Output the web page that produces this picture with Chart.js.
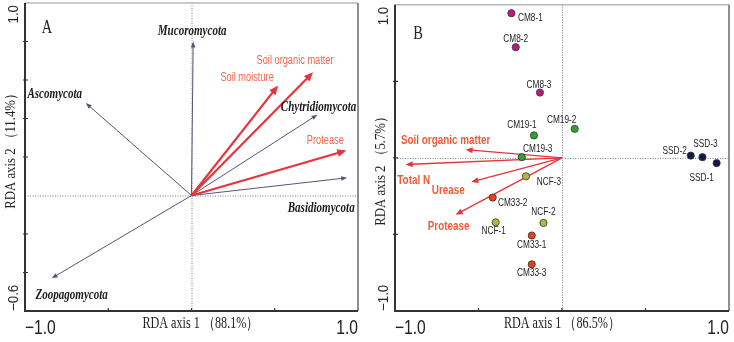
<!DOCTYPE html>
<html>
<head>
<meta charset="utf-8">
<script src="https://cdn.jsdelivr.net/npm/chart.js@4"></script>
<style>
  body { margin: 0; background: #fff; }
  #wrap { position: relative; width: 734px; height: 342px; }
  canvas { position: absolute; top: 0; }
</style>
</head>
<body>
<div id="wrap">
  <canvas id="rda-a" width="367" height="342" style="left:0"></canvas>
  <canvas id="rda-b" width="367" height="342" style="left:367px"></canvas>
</div>
<script>
// ---- panel A: phyla (grey arrows) and soil factors (red arrows)
const phylaNames = ['Mucoromycota', 'Ascomycota', 'Zoopagomycota', 'Chytridiomycota', 'Basidiomycota'];
const phylaX = [0.01, -0.635, -0.84, 0.757, 0.935];
const phylaY = [0.80, 0.48, -0.43, 0.42, 0.092];
const envANames = ['Soil moisture', 'Soil organic matter', 'Protease'];
const envAX = [0.52, 0.73, 0.93];
const envAY = [0.571, 0.64, 0.234];
const xTicksA = ['−1.0', '1.0'];
const yTicksA = ['−0.6', '1.0'];

// ---- panel B: samples and soil factors
const groupNames = ['CM8', 'CM19', 'NCF', 'CM33', 'SSD'];
const sampleNames = ['CM8-1', 'CM8-2', 'CM8-3', 'CM19-1', 'CM19-2', 'CM19-3',
  'NCF-1', 'NCF-2', 'NCF-3', 'CM33-1', 'CM33-2', 'CM33-3', 'SSD-1', 'SSD-2', 'SSD-3'];
const sampleGroup = ['CM8', 'CM8', 'CM8', 'CM19', 'CM19', 'CM19',
  'NCF', 'NCF', 'NCF', 'CM33', 'CM33', 'CM33', 'SSD', 'SSD', 'SSD'];
const sampleX = [-0.303, -0.277, -0.132, -0.168, 0.076, -0.241,
  -0.397, -0.111, -0.216, -0.181, -0.415, -0.181, 0.926, 0.771, 0.841];
const sampleY = [0.945, 0.723, 0.427, 0.147, 0.19, 0.005,
  -0.421, -0.425, -0.12, -0.507, -0.259, -0.695, -0.034, 0.015, 0.005];
const envBNames = ['Soil organic matter', 'Total N', 'Urease', 'Protease'];
const envBX = [-0.577, -0.936, -0.543, -0.637];
const envBY = [0.054, -0.043, -0.157, -0.371];
const xTicksB = ['−1.0', '1.0'];
const yTicksB = ['−1.0', '1.0'];

// styling
const groupColors = { CM8: '#c2187e', CM19: '#2fa233', NCF: '#b8b636', CM33: '#e2421c', SSD: '#17174c' };
const SERIF = '"Liberation Serif", "Times New Roman", serif';
const SANS = '"Liberation Sans", Arial, sans-serif';

// label offsets in px from the arrow tip / point
const phylaOff = [[-1, -10], [-31, -9], [20, 17], [1, -7], [-26, 31]];
const envAOff = [[-31, -8], [-18, -12], [-21, -10]];
const sampleOff = [[19, 5], [0, -8], [-1, -8], [-12, -10], [-13, -9], [16, -8],
  [-2, 9], [0, -11], [23, 6], [0, 9], [20, 5], [0, 9], [-15, 15], [-16, -5], [3, -13]];
const envBOff = [[-20, -9], [8, 16], [-23, 8], [-7, 12]];

function txt(ctx, s, x, y, font, color, sx, rot, align) {
  ctx.save();
  ctx.translate(x, y);
  if (rot) ctx.rotate(rot);
  ctx.scale(sx, 1);
  ctx.font = font;
  ctx.fillStyle = color;
  ctx.textAlign = align || 'center';
  ctx.textBaseline = 'middle';
  ctx.fillText(s, 0, 0);
  ctx.restore();
}

function arrow(ctx, x0, y0, x1, y1, color, lw, hl, hw) {
  const a = Math.atan2(y1 - y0, x1 - x0);
  const bx = x1 - hl * Math.cos(a), by = y1 - hl * Math.sin(a);
  ctx.strokeStyle = color;
  ctx.lineWidth = lw;
  ctx.beginPath();
  ctx.moveTo(x0, y0);
  ctx.lineTo(bx + Math.cos(a), by + Math.sin(a));
  ctx.stroke();
  ctx.fillStyle = color;
  ctx.beginPath();
  ctx.moveTo(x1, y1);
  ctx.lineTo(bx + hw * Math.sin(a), by - hw * Math.cos(a));
  ctx.lineTo(bx - hw * Math.sin(a), by + hw * Math.cos(a));
  ctx.closePath();
  ctx.fill();
}

function framePlugin(cfg) {
  return {
    id: 'rdaFrame',
    beforeDatasetsDraw(chart) {
      const ctx = chart.ctx, xs = chart.scales.x, ys = chart.scales.y;
      const { left, right, top, bottom } = chart.chartArea;
      ctx.save();
      // zero lines
      ctx.strokeStyle = '#7a7a7a';
      ctx.lineWidth = 1;
      ctx.setLineDash([1, 1.5]);
      ctx.beginPath();
      ctx.moveTo(xs.getPixelForValue(0) + 0.5, top);
      ctx.lineTo(xs.getPixelForValue(0) + 0.5, bottom);
      ctx.moveTo(left, ys.getPixelForValue(0) + 0.5);
      ctx.lineTo(right, ys.getPixelForValue(0) + 0.5);
      ctx.stroke();
      ctx.setLineDash([]);
      // box
      ctx.strokeStyle = '#b8b8b8';
      ctx.lineWidth = 1.5;
      ctx.beginPath(); ctx.moveTo(left, top); ctx.lineTo(right, top); ctx.stroke();
      ctx.strokeStyle = '#6a6a6a';
      ctx.beginPath(); ctx.moveTo(right, top); ctx.lineTo(right, bottom); ctx.stroke();
      ctx.strokeStyle = '#333';
      ctx.lineWidth = 2;
      ctx.beginPath();
      ctx.moveTo(left, top); ctx.lineTo(left, bottom); ctx.lineTo(right, bottom);
      ctx.stroke();
      // tick marks
      ctx.lineWidth = 1.2;
      ctx.beginPath();
      cfg.yTickVals.forEach(v => {
        const p = ys.getPixelForValue(v);
        ctx.moveTo(left - 2, p); ctx.lineTo(left + 3, p);
      });
      cfg.xTickVals.forEach(v => {
        const p = xs.getPixelForValue(v);
        ctx.moveTo(p, bottom + 1); ctx.lineTo(p, bottom - 3);
      });
      ctx.stroke();
      // arrows
      cfg.arrows.forEach(set => {
        set.xs.forEach((x, i) => {
          arrow(ctx, xs.getPixelForValue(0), ys.getPixelForValue(0),
            xs.getPixelForValue(x), ys.getPixelForValue(set.ys[i]),
            set.color, set.lw, set.hl, set.hw);
        });
      });
      ctx.restore();
    },
    afterDatasetsDraw(chart) {
      const ctx = chart.ctx, xs = chart.scales.x, ys = chart.scales.y;
      const { left, right, top, bottom } = chart.chartArea;
      // tick labels at the ends of each axis
      const tf = '20px ' + SANS;
      txt(ctx, cfg.xTickLabels[0], left, bottom + 17, tf, '#222', 0.78, 0, 'left');
      txt(ctx, cfg.xTickLabels[1], right, bottom + 17, tf, '#222', 0.78, 0, 'right');
      const rf = '14px ' + SANS;
      txt(ctx, cfg.yTickLabels[1], left - 11, top + 2, rf, '#222', 0.95, -Math.PI / 2, 'right');
      txt(ctx, cfg.yTickLabels[0], left - 11, bottom, rf, '#222', 0.95, -Math.PI / 2, 'left');
      // axis titles and panel letter
      txt(ctx, cfg.xTitle, (left + right) / 2 + cfg.xTitleShift, bottom + 13, '16px ' + SERIF, '#222', 0.76);
      txt(ctx, cfg.yTitle, left - 14, cfg.yTitleY, '15px ' + SERIF, '#222', 0.85, -Math.PI / 2);
      txt(ctx, cfg.panel, left + cfg.panelPos[0], top + cfg.panelPos[1], '18px ' + SERIF, '#222', 0.8);
      // labels
      cfg.labels.forEach(set => {
        set.names.forEach((n, i) => {
          const px = xs.getPixelForValue(set.xs[i]) + set.off[i][0];
          const py = ys.getPixelForValue(set.ys[i]) + set.off[i][1];
          txt(ctx, n, px, py, set.font, set.color, set.sx);
        });
      });
    }
  };
}

function makeRda(id, cfg) {
  new Chart(document.getElementById(id), {
    type: 'scatter',
    data: { datasets: cfg.datasets },
    options: {
      responsive: false,
      animation: false,
      devicePixelRatio: 1,
      layout: { padding: cfg.padding },
      plugins: { legend: { display: false }, tooltip: { enabled: false } },
      scales: {
        x: { type: 'linear', min: cfg.xMin, max: cfg.xMax, display: false },
        y: { type: 'linear', min: cfg.yMin, max: cfg.yMax, display: false }
      }
    },
    plugins: [framePlugin(cfg)]
  });
}

document.addEventListener('DOMContentLoaded', function() {
  makeRda('rda-a', {
    xMin: -1, xMax: 1, yMin: -0.6, yMax: 1,
    padding: { left: 25, right: 9, top: 3, bottom: 31 },
    xTickVals: [-0.5, 0, 0.5], yTickVals: [-0.4, -0.2, 0.2, 0.4, 0.6, 0.8],
    xTickLabels: xTicksA, yTickLabels: yTicksA,
    xTitle: 'RDA axis 1 （88.1%）', xTitleShift: 9,
    yTitle: 'RDA axis 2 （11.4%）', yTitleY: 148,
    panel: 'A', panelPos: [22, 25],
    datasets: [],
    arrows: [
      { xs: phylaX, ys: phylaY, color: '#55557a', lw: 1, hl: 6, hw: 2.3 },
      { xs: envAX, ys: envAY, color: '#e8333a', lw: 2.2, hl: 9, hw: 4 }
    ],
    labels: [
      { names: phylaNames, xs: phylaX, ys: phylaY, off: phylaOff, font: 'italic bold 14px ' + SERIF, color: '#1a1a1a', sx: 0.79 },
      { names: envANames, xs: envAX, ys: envAY, off: envAOff, font: '12px ' + SANS, color: '#ef6848', sx: 0.77 }
    ]
  });

  const dsB = groupNames.map(g => ({
    label: g,
    data: sampleNames.map((n, i) => ({ x: sampleX[i], y: sampleY[i], g: sampleGroup[i] }))
      .filter(p => p.g === g),
    backgroundColor: groupColors[g],
    borderColor: '#333',
    borderWidth: 0.8,
    pointRadius: 3.6
  }));

  makeRda('rda-b', {
    xMin: -1, xMax: 1, yMin: -1, yMax: 1,
    padding: { left: 28, right: 5, top: 3, bottom: 31 },
    xTickVals: [-0.5, 0, 0.5], yTickVals: [-0.5, 0, 0.5],
    xTickLabels: xTicksB, yTickLabels: yTicksB,
    xTitle: 'RDA axis 1 （86.5%）', xTitleShift: 0,
    yTitle: 'RDA axis 2 （5.7%）', yTitleY: 168,
    panel: 'B', panelPos: [23, 29],
    datasets: dsB,
    arrows: [
      { xs: envBX, ys: envBY, color: '#e8333a', lw: 1.3, hl: 7, hw: 3 }
    ],
    labels: [
      { names: sampleNames, xs: sampleX, ys: sampleY, off: sampleOff, font: '11px ' + SANS, color: '#222', sx: 0.75 },
      { names: envBNames, xs: envBX, ys: envBY, off: envBOff, font: 'bold 13px ' + SANS, color: '#ef5b38', sx: 0.76 }
    ]
  });
});
</script>
</body>
</html>
